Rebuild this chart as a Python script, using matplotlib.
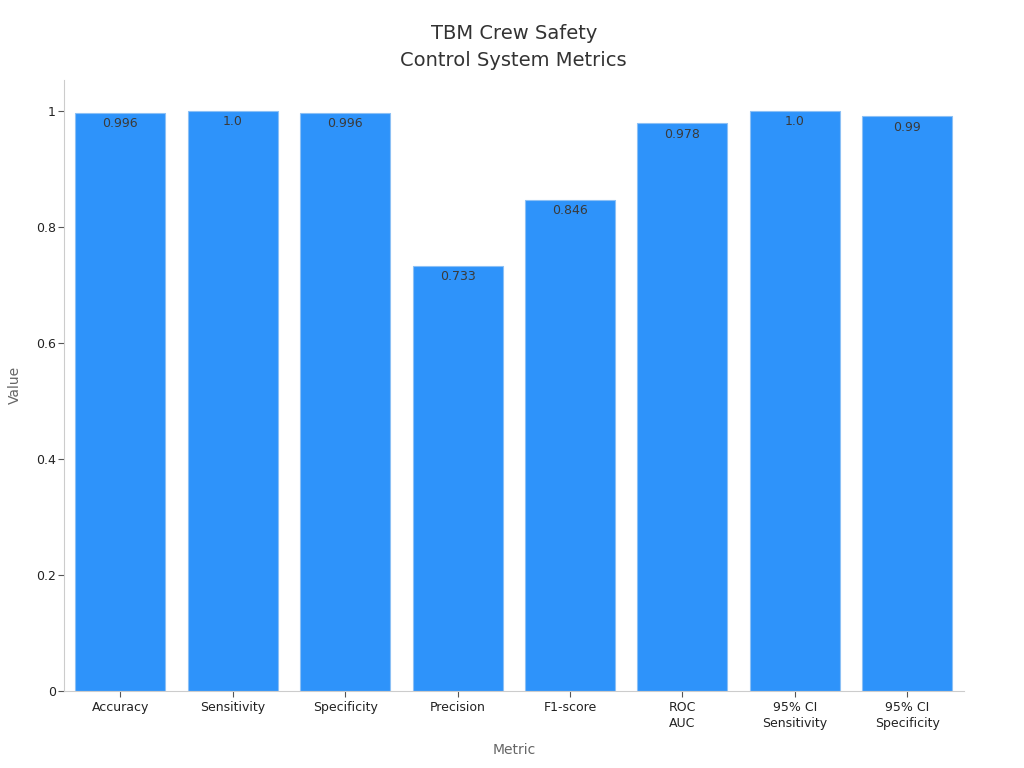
import matplotlib
matplotlib.use("Agg")
import matplotlib.pyplot as plt

categories = ["Accuracy", "Sensitivity", "Specificity", "Precision", "F1-score",
              "ROC\nAUC", "95% CI\nSensitivity", "95% CI\nSpecificity"]
values = [0.996, 1.0, 0.996, 0.733, 0.846, 0.978, 1.0, 0.99]
labels = ["0.996", "1.0", "0.996", "0.733", "0.846", "0.978", "1.0", "0.99"]

plt.rcParams['font.family'] = ['DejaVu Sans']
fig = plt.figure(figsize=(10.24, 7.68), dpi=100)
ax = fig.add_axes([0.0625, 0.1003, 0.8785, 0.7957])

x = list(range(len(categories)))
bars = ax.bar(x, values, width=0.8, color="#2E93FA", edgecolor="#8CC0F5", linewidth=0.8)
for xi, v, lab in zip(x, values, labels):
    ax.annotate(lab, (xi, v), xytext=(0, -3), textcoords="offset points",
                ha="center", va="top", fontsize=9, color="#3a3a3a")

ax.set_xlim(-0.5, 7.5)
ax.set_ylim(0, 1.053)
ax.set_xticks(x)
ax.set_xticklabels(categories, fontsize=9, color="#222222", linespacing=1.3)
ax.set_yticks([0, 0.2, 0.4, 0.6, 0.8, 1.0])
ax.set_yticklabels(["0", "0.2", "0.4", "0.6", "0.8", "1"], fontsize=9, color="#222222")
ax.tick_params(axis="both", colors="#555555", labelcolor="#222222", length=4)
ax.tick_params(axis="y", pad=2)
for s in ["top", "right"]:
    ax.spines[s].set_visible(False)
for s in ["left", "bottom"]:
    ax.spines[s].set_color("#cccccc")
ax.set_xlabel("Metric", fontsize=10, color="#666666", labelpad=9)
ax.set_ylabel("Value", fontsize=10, color="#666666", labelpad=10)
ax.set_title("TBM Crew Safety\nControl System Metrics", fontsize=14, color="#333333",
             pad=10, linespacing=1.5)

fig.savefig("out.png", dpi=100)
